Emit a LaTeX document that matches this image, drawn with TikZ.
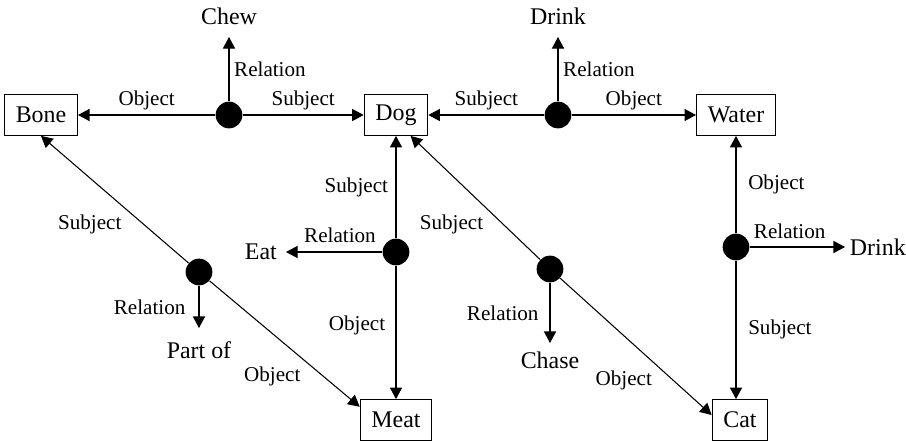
\documentclass[tikz,border=0pt]{standalone}
\usepackage{fontspec}
\setmainfont{Liberation Serif}
\usetikzlibrary{arrows.meta,positioning}

\begin{document}
\begin{tikzpicture}[x=0.025cm,y=-0.025cm,
    concept/.style={draw,line width=0.7pt,font=\fontsize{17}{20}\selectfont,inner xsep=8pt,minimum height=29pt},
    word/.style={font=\fontsize{17}{20}\selectfont},
    role/.style={font=\fontsize{15}{18}\selectfont},
    rel/.style={circle,fill,inner sep=0pt,minimum size=19pt},
    arr/.style={line width=0.75pt,-{Triangle[length=8.2pt,width=8.6pt]}}]
  \useasboundingbox (0,0) rectangle (906,441);

  \foreach \n/\x/\y in {Bone/41/115,Dog/396/115,Water/736/115,Meat/396/420,Cat/740/420} {
    \node[concept] (\n) at (\x,\y) {\n};
  }
  \foreach \n/\x/\y in {chew/229/115,drinkA/558/115,eat/396/252,partof/199/272,chase/550/269,drinkB/736/247} {
    \node[rel] (\n) at (\x,\y) {};
  }

  % free ends of the relation arrows
  \coordinate (tChew) at (229,37);
  \coordinate (tDrinkA) at (558,37);
  \coordinate (tEat) at (286,252);
  \coordinate (tPartOf) at (199,328);
  \coordinate (tChase) at (550,343);
  \coordinate (tDrinkB) at (845,247);

  \node[word,above=5pt of tChew] (Chew) {Chew};
  \node[word,above=5pt of tDrinkA] (DrinkA) {Drink};
  \node[word,left=3pt of tEat] (Eat) {Eat};
  \node[word,below=6.5pt of tPartOf] (PartOf) {Part of};
  \node[word,below=3pt of tChase] (Chase) {Chase};
  \node[word,right=0pt of tDrinkB] (DrinkB) {Drink};

  \draw[arr] (chew) -- node[role,above] {Object} (Bone);
  \draw[arr] (chew) -- node[role,above] {Subject} (Dog);
  \draw[arr] (chew) -- node[role,right] {Relation} (tChew);

  \draw[arr] (drinkA) -- node[role,above] {Subject} (Dog);
  \draw[arr] (drinkA) -- node[role,above] {Object} (Water);
  \draw[arr] (drinkA) -- node[role,right] {Relation} (tDrinkA);

  \draw[arr] (eat) -- node[role,left=2pt] {Subject} (Dog);
  \draw[arr] (eat) -- node[role,left=4pt,pos=0.45] {Object} (Meat);
  \draw[arr] (eat) -- node[role,above=3pt,pos=0.44] {Relation} (tEat);

  \draw[arr] (partof) -- node[role,below left,pos=0.42] {Subject} (Bone.south);
  \draw[arr] (partof) -- node[role,below left,pos=0.64] {Object} (Meat.160);
  \draw[arr] (partof) -- node[role,left=6pt] {Relation} (tPartOf);

  \draw[arr] (chase) -- node[role,below left,pos=0.4] {Subject} (Dog.-55);
  \draw[arr] (chase) -- node[role,below left,pos=0.64] {Object} (Cat.170);
  \draw[arr] (chase) -- node[role,left=4.5pt] {Relation} (tChase);

  \draw[arr] (drinkB) -- node[role,right=5pt] {Object} (Water);
  \draw[arr] (drinkB) -- node[role,right=5pt] {Subject} (drinkB |- Cat.north);
  \draw[arr] (drinkB) -- node[role,above=2pt,pos=0.42] {Relation} (tDrinkB);
\end{tikzpicture}
\end{document}
